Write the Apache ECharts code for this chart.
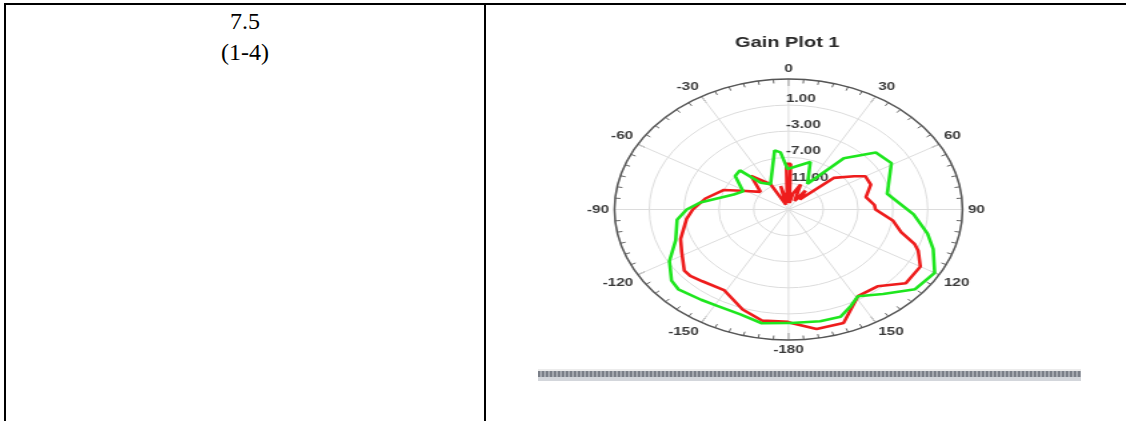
<!DOCTYPE html>
<html>
<head>
<meta charset="utf-8">
<script src="https://cdn.jsdelivr.net/npm/echarts@6/dist/echarts.min.js"></script>
<style>
  html, body { margin: 0; padding: 0; background: #fff; width: 1126px; height: 421px; overflow: hidden; position: relative; }
  .rule { position: absolute; background: #000; }
  .cellText { position: absolute; left: 6px; width: 478px; text-align: center;
              font-family: 'Liberation Serif', 'Times New Roman', serif; font-size: 24px; line-height: 31px; color: #000; }
  #chart { position: absolute; left: 486px; top: 0; width: 478px; height: 421px;
           transform: scaleX(1.3333); transform-origin: 0 0; }
  #barDark { position: absolute; left: 538px; top: 371px; width: 543px; height: 6px;
             background: repeating-linear-gradient(90deg, #7a7f88 0px, #7a7f88 2px, #a2a6ad 2px, #a2a6ad 4px); }
  #barLight { position: absolute; left: 538px; top: 377px; width: 543px; height: 4px; background: #d3d6db; }
  #barTop { position: absolute; left: 538px; top: 369px; width: 543px; height: 2px; background: #ececec; }
</style>
</head>
<body>
<div class="rule" style="left:4px; top:3px; width:1122px; height:2px;"></div>
<div class="rule" style="left:4px; top:3px; width:2px; height:418px;"></div>
<div class="rule" style="left:484px; top:3px; width:2px; height:418px;"></div>
<div class="cellText" style="top:6px;">7.5<br>(1-4)</div>
<div id="chart"></div>
<div id="barTop"></div>
<div id="barDark"></div>
<div id="barLight"></div>
<script>
// Gain pattern, angle in degrees (0 = top, clockwise), gain in dB
const redAngles = [-180, -170, -161, -149, -138, -132, -128, -118, -110, -97, -90, -80, -68, -62, -50, -40, -28, -22, -14, -8, -2, 2, 6, 12, 20, 28, 34, 40, 47, 56, 60, 68, 78, 86, 90, 98, 105, 110, 113, 120, 130, 139, 149, 160, 170, 179, 180];
const redGain   = [2.2, 2.3, 1.2, -0.6, -0.2, 0.2, 0.2, -1.1, -1.8, -3.2, -4.0, -5.3, -7.0, -8.9, -10.8, -8.3, -10.6, -14.2, -11.3, -14.0, -8.0, -8.0, -14.0, -12.5, -10.9, -13.5, -11.5, -13.0, -7.9, -5.9, -4.8, -4.8, -5.9, -5.1, -5.0, -2.9, -1.6, 0.4, 1.2, 2.5, 2.6, 0.6, 0.5, 3.5, 3.6, 2.4, 2.2];

const greenAngles = [-180, -170, -161, -151, -144, -134, -129, -120, -110, -97, -90, -84, -70, -62, -50, -43, -38, -28, -10, -6, -1, 19, 29, 39, 49, 59, 78, 93, 103, 110, 120, 130, 140, 149, 154, 160, 168, 179, 180];
const greenGain   = [2.4, 2.7, 2.0, 1.9, 2.1, 2.6, 2.3, 0.8, -1.2, -2.1, -3.3, -4.8, -8.3, -9.1, -7.0, -6.8, -9.8, -10.6, -5.8, -6.2, -8.8, -7.3, -10.5, -4.9, -1.7, -1.2, -3.4, -0.6, 1.4, 2.7, 4.4, 4.0, 1.9, 0.5, 1.4, 2.5, 2.5, 2.4, 2.4];

const gainMin = -15, gainMax = 5, gainStep = 4;

const toPolar = (angles, gains) => angles.map((a, i) => [gains[i], a]);

const chart = echarts.init(document.getElementById('chart'), null, { renderer: 'canvas' });
const center = [226.9, 209.5];
const radius = 130.5;
const axisFont = { fontFamily: 'Liberation Sans, Arial, sans-serif', fontSize: 11.5, fontWeight: 'bold', color: '#3a3a3a' };

chart.setOption({
  animation: false,
  backgroundColor: 'transparent',
  title: {
    text: 'Gain Plot 1',
    left: 226, top: 35, textAlign: 'center', padding: 0,
    textStyle: { fontFamily: 'Liberation Sans, Arial, sans-serif', fontSize: 15, fontWeight: 'bold', color: '#2a2a2a' }
  },
  polar: [
    { center: center, radius: radius },
    { center: center, radius: radius }
  ],
  angleAxis: [
    {
      polarIndex: 0, type: 'value', min: -180, max: 180, interval: 30,
      startAngle: 270, clockwise: true,
      axisLine: { lineStyle: { color: '#555', width: 1.5 } },
      axisTick: { inside: true, length: 7, lineStyle: { color: '#555', width: 1 } },
      minorTick: { show: true, splitNumber: 6, length: 4, lineStyle: { color: '#666', width: 1 } },
      axisLabel: Object.assign({ margin: 4, formatter: v => (v === 180 ? '' : String(v)) }, axisFont),
      splitLine: { show: true, lineStyle: { color: '#dcdcdc', width: 1 } }
    },
    { polarIndex: 1, type: 'value', min: 0, max: 360, startAngle: 90, show: false }
  ],
  radiusAxis: [
    {
      polarIndex: 0, type: 'value', min: gainMin, max: gainMax, interval: gainStep,
      axisLine: { show: false }, axisTick: { show: false }, axisLabel: { show: false },
      splitLine: { show: true, lineStyle: { color: '#dcdcdc', width: 1 } }
    },
    {
      polarIndex: 1, type: 'value', min: gainMin, max: gainMax, interval: gainStep,
      axisLine: { show: false }, axisTick: { show: false }, splitLine: { show: false },
      axisLabel: Object.assign({
        margin: 2, align: 'left', verticalAlign: 'bottom',
        formatter: v => (v <= gainMin || v >= gainMax ? '' : v.toFixed(2))
      }, axisFont)
    }
  ],
  series: [
    {
      name: 'red', type: 'line', coordinateSystem: 'polar', polarIndex: 0,
      data: toPolar(redAngles, redGain), symbol: 'none',
      lineStyle: { color: '#ee1c1c', width: 2.6 }, z: 3
    },
    {
      name: 'green', type: 'line', coordinateSystem: 'polar', polarIndex: 0,
      data: toPolar(greenAngles, greenGain), symbol: 'none',
      lineStyle: { color: '#1ee61e', width: 2.6 }, z: 4
    }
  ]
});
</script>
</body>
</html>
